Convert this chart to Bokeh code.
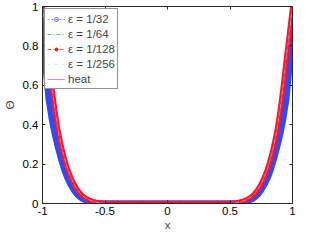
from bokeh.plotting import figure
from bokeh.models import Range1d, FixedTicker, LinearAxis, Legend, LegendItem
from bokeh.embed import file_html
from bokeh.resources import INLINE

# ---- data ----
x = [-1.0, -0.975, -0.95, -0.925, -0.9, -0.875, -0.85, -0.825, -0.8, -0.775,
     -0.75, -0.725, -0.7, -0.675, -0.65, -0.625, -0.6, -0.575, -0.55, -0.525, -0.5,
     -0.4, -0.3, -0.2, -0.1, 0.0, 0.1, 0.2, 0.3, 0.4,
     0.5, 0.525, 0.55, 0.575, 0.6, 0.625, 0.65, 0.675, 0.7, 0.725,
     0.75, 0.775, 0.8, 0.825, 0.85, 0.875, 0.9, 0.925, 0.95, 0.975, 1.0]

theta_32 = [0.89, 0.70, 0.53, 0.43, 0.35, 0.285, 0.225, 0.172, 0.13, 0.097,
            0.07, 0.049, 0.034, 0.023, 0.015, 0.009, 0.005, 0.003, 0.001, 0.0, 0.0,
            0, 0, 0, 0, 0, 0, 0, 0, 0,
            0.0, 0.0, 0.001, 0.003, 0.005, 0.009, 0.015, 0.023, 0.034, 0.049,
            0.07, 0.097, 0.13, 0.172, 0.225, 0.285, 0.35, 0.43, 0.53, 0.70, 0.89]

theta_64 = [0.98, 0.85, 0.72, 0.58, 0.46, 0.362, 0.285, 0.222, 0.171, 0.130,
            0.097, 0.070, 0.050, 0.034, 0.024, 0.016, 0.010, 0.006, 0.004, 0.001, 0.0,
            0, 0, 0, 0, 0, 0, 0, 0, 0,
            0.0, 0.001, 0.004, 0.006, 0.010, 0.016, 0.024, 0.034, 0.050, 0.070,
            0.097, 0.130, 0.171, 0.222, 0.285, 0.362, 0.46, 0.58, 0.72, 0.85, 0.98]

theta_128 = [1.0, 0.865, 0.735, 0.595, 0.47, 0.37, 0.292, 0.228, 0.176, 0.134,
             0.10, 0.073, 0.052, 0.036, 0.025, 0.017, 0.011, 0.007, 0.004, 0.002, 0.0,
             0, 0, 0, 0, 0, 0, 0, 0, 0,
             0.0, 0.002, 0.004, 0.007, 0.011, 0.017, 0.025, 0.036, 0.052, 0.073,
             0.10, 0.134, 0.176, 0.228, 0.292, 0.37, 0.47, 0.595, 0.735, 0.865, 1.0]

theta_256 = [1.0, 0.867, 0.737, 0.597, 0.472, 0.372, 0.293, 0.229, 0.177, 0.135,
             0.10, 0.073, 0.052, 0.036, 0.025, 0.017, 0.011, 0.007, 0.004, 0.002, 0.0,
             0, 0, 0, 0, 0, 0, 0, 0, 0,
             0.0, 0.002, 0.004, 0.007, 0.011, 0.017, 0.025, 0.036, 0.052, 0.073,
             0.10, 0.135, 0.177, 0.229, 0.293, 0.372, 0.472, 0.597, 0.737, 0.867, 1.0]

theta_heat = [1.0, 0.87, 0.74, 0.60, 0.474, 0.374, 0.295, 0.23, 0.178, 0.136,
              0.101, 0.074, 0.053, 0.037, 0.026, 0.018, 0.012, 0.007, 0.004, 0.002, 0.0,
              0, 0, 0, 0, 0, 0, 0, 0, 0,
              0.0, 0.002, 0.004, 0.007, 0.012, 0.018, 0.026, 0.037, 0.053, 0.074,
              0.101, 0.136, 0.178, 0.23, 0.295, 0.374, 0.474, 0.60, 0.74, 0.87, 1.0]

series_labels = ["ε = 1/32", "ε = 1/64", "ε = 1/128", "ε = 1/256", "heat"]

xtick_values = [-1, -0.5, 0, 0.5, 1]
xtick_labels = ["-1", "-0.5", "0", "0.5", "1"]
ytick_values = [0, 0.2, 0.4, 0.6, 0.8, 1]
ytick_labels = ["0", "0.2", "0.4", "0.6", "0.8", "1"]

FONT = "Liberation Sans"
FS = "11.5px"
AX = "#262626"

p = figure(width=297, height=233, output_backend="svg", toolbar_location=None,
           x_range=Range1d(-1, 1), y_range=Range1d(0, 1),
           min_border_left=33, min_border_right=5, min_border_top=6,
           min_border_bottom=0)
p.background_fill_color = "white"
p.border_fill_color = "white"
p.outline_line_color = AX
p.xgrid.visible = False
p.ygrid.visible = False


def style_axis(ax, ticks, labels, show_labels=True):
    ax.ticker = FixedTicker(ticks=ticks)
    ax.major_label_overrides = dict(zip(ticks, labels))
    ax.major_tick_in = 3
    ax.major_tick_out = 0
    ax.minor_tick_in = 0
    ax.minor_tick_out = 0
    ax.axis_line_color = AX
    ax.major_tick_line_color = AX
    ax.major_label_text_font = FONT
    ax.major_label_text_color = "black"
    if show_labels:
        ax.major_label_text_font_size = FS
        ax.major_label_standoff = 4
    else:
        ax.major_label_text_font_size = "0px"
        ax.major_label_standoff = 0


xa = p.xaxis[0]
style_axis(xa, xtick_values, xtick_labels)
xa.axis_label = "x"
xa.axis_label_text_font = FONT
xa.axis_label_text_font_size = FS
xa.axis_label_text_font_style = "normal"
xa.axis_label_standoff = 1
xa.major_label_standoff = 3

ya = p.yaxis[0]
style_axis(ya, ytick_values, ytick_labels)
ya.axis_label = "Θ"
ya.axis_label_text_font = FONT
ya.axis_label_text_font_size = FS
ya.axis_label_text_font_style = "normal"
ya.axis_label_standoff = 4

top = LinearAxis()
style_axis(top, xtick_values, ["" for _ in xtick_labels], show_labels=False)
p.add_layout(top, "above")
right = LinearAxis()
style_axis(right, ytick_values, ["" for _ in ytick_labels], show_labels=False)
p.add_layout(right, "right")

# ---- eps = 1/32 : blue circles ----
b_line = p.line(x, theta_32, line_color="#8c8cff", line_width=1, line_dash="2 2")
b_mark = p.scatter(x, theta_32, marker="circle", size=5, fill_color=None,
                   line_color="#7070ff", line_width=1)
p.line(x, theta_32, line_color="#2a4bff", line_width=6.5, line_join="round")

# ---- eps = 1/64 : green dash-dot ----
g_line = p.line(x, theta_64, line_color="#5fc85f", line_width=1, line_dash="4 2 1 2")

# ---- eps = 1/128 : red with stars ----
r_line = p.line(x, theta_128, line_color="#ff5a5a", line_width=1, line_dash="4 2")
r_mark = p.scatter(x, theta_128, marker="asterisk", size=4, line_color="#ff1020",
                   line_width=1)
p.line(x, theta_128, line_color="#ff1424", line_width=5, line_join="round")

# ---- heat : purple solid ----
h_line = p.line(x, theta_heat, line_color="#a070e0", line_width=0.7)

# ---- eps = 1/256 : light cyan dashed ----
c_line = p.line(x, theta_256, line_color="#a8e6f0", line_width=1, line_dash="4 3",
                line_alpha=0.4)

legend = Legend(items=[
    LegendItem(label=series_labels[0], renderers=[b_line, b_mark]),
    LegendItem(label=series_labels[1], renderers=[g_line]),
    LegendItem(label=series_labels[2], renderers=[r_line, r_mark]),
    LegendItem(label=series_labels[3], renderers=[c_line]),
    LegendItem(label=series_labels[4], renderers=[h_line]),
], location="top_left")
legend.margin = 2
legend.padding = 2
legend.spacing = 0
legend.glyph_height = 10
legend.label_height = 15
legend.glyph_width = 18
legend.label_standoff = 3
legend.label_text_font = FONT
legend.label_text_font_size = FS
legend.label_text_baseline = "middle"
legend.border_line_color = AX
legend.border_line_width = 1
legend.background_fill_color = "white"
legend.background_fill_alpha = 1.0
p.add_layout(legend, "center")

open("out.html", "w").write(file_html(p, INLINE))
